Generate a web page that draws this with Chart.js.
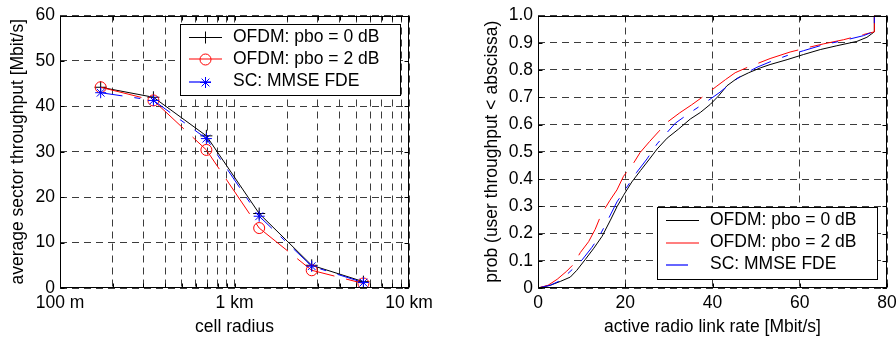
<!DOCTYPE html>
<html>
<head>
<meta charset="utf-8">
<script src="https://cdn.jsdelivr.net/npm/chart.js@4/dist/chart.umd.min.js"></script>
<style>
  html, body { margin: 0; padding: 0; background: #fff; }
  #wrap { position: relative; width: 896px; height: 339px; overflow: hidden; background: #fff; }
  #wrap canvas { position: absolute; top: 0; }
  #left { left: 0; }
  #right { left: 448px; }
</style>
</head>
<body>
<div id="wrap">
  <canvas id="left" width="448" height="339"></canvas>
  <canvas id="right" width="460" height="339"></canvas>
</div>
<script>
// ---- series names and colours ----
const seriesNames = ['OFDM: pbo = 0 dB', 'OFDM: pbo = 2 dB', 'SC: MMSE FDE'];
const seriesColors = ['#000000', '#ff0000', '#0000ff'];

// ---- average sector throughput [Mbit/s] vs cell radius [m] ----
const cellRadius = [171, 343, 690, 1385, 2770, 5480];
const ofdm0Throughput = [44.2, 42.0, 33.5, 16.4, 5.0, 1.4];
const ofdm2Throughput = [44.2, 41.3, 30.4, 13.2, 3.9, 1.0];
const scThroughput = [43.0, 41.3, 32.9, 15.8, 4.8, 1.2];

const radiusTickValues = [100, 1000, 10000];
const radiusTickLabels = ['100 m', '1 km', '10 km'];

// ---- CDF of active radio link rate [Mbit/s] ----
const ofdm0Rate = [0, 2.8, 5.1, 7.4, 8.9, 10.8, 12.8, 14.7, 16.6, 18.1, 19.6, 21.5, 23.5, 25.4, 27.3, 29.6, 32.2, 34.9, 37.2, 39.5, 41.4, 43.3, 45.6, 48.3, 51, 53.2, 57.1, 60.9, 64.7, 68.5, 73.1, 75.4, 77.1, 77.1];
const ofdm0Prob = [0, 0.01, 0.024, 0.04, 0.065, 0.104, 0.146, 0.19, 0.249, 0.298, 0.34, 0.389, 0.431, 0.47, 0.51, 0.55, 0.583, 0.62, 0.644, 0.674, 0.705, 0.742, 0.769, 0.79, 0.808, 0.82, 0.838, 0.857, 0.875, 0.889, 0.905, 0.92, 0.94, 1];

const ofdm2Rate = [0, 2.3, 4.4, 6.6, 8.2, 9.7, 11.6, 13.1, 14.5, 16.5, 18.1, 19.6, 21.7, 23.4, 25.6, 27.6, 29.5, 32.5, 35.2, 37.9, 41, 43, 45.2, 48.6, 50.5, 53.2, 57.8, 62, 65.5, 70, 74.6, 77.1, 77.1];
const ofdm2Prob = [0, 0.01, 0.032, 0.062, 0.088, 0.13, 0.17, 0.215, 0.27, 0.322, 0.36, 0.41, 0.453, 0.497, 0.538, 0.573, 0.607, 0.643, 0.672, 0.703, 0.741, 0.765, 0.79, 0.814, 0.825, 0.842, 0.866, 0.883, 0.896, 0.911, 0.93, 0.94, 1];

const scRate = [0, 2.8, 5.1, 8.2, 10.1, 12.3, 14, 15.8, 18.1, 20.4, 22.6, 25, 27.3, 29.6, 31.5, 34.8, 38.3, 41.5, 44.5, 47.1, 50.2, 53.2, 57.1, 60.9, 65.5, 70, 74.6, 77.1, 77.1];
const scProb = [0, 0.01, 0.027, 0.073, 0.103, 0.148, 0.188, 0.243, 0.316, 0.371, 0.424, 0.474, 0.529, 0.571, 0.605, 0.643, 0.68, 0.716, 0.755, 0.784, 0.81, 0.83, 0.853, 0.871, 0.893, 0.908, 0.926, 0.942, 1];

// ---- styling ----
const FONT_FAMILY = "'Liberation Sans', Arial, Helvetica, sans-serif";
const FONT = { family: FONT_FAMILY, size: 17.5 };
const GRID_COLOR = '#3c3c3c';
const GRID_DASH = [7, 5];
const RED_DASH = [42, 12];
const BLUE_DASH = [22, 12, 6, 12];
const seriesDashes = [[], RED_DASH, BLUE_DASH];

Chart.defaults.font.family = FONT_FAMILY;
Chart.defaults.font.size = 17.5;
Chart.defaults.color = '#000';

const toXY = (xs, ys) => xs.map((x, i) => ({ x, y: ys[i] }));

// log-axis grid: 1..9 per decade
function decadeTicks(lo, hi) {
  const out = [];
  for (let d = lo; d < hi; d *= 10) {
    for (let k = 1; k <= 9; k++) out.push(k * d);
  }
  out.push(hi);
  return out;
}

function drawMarker(ctx, style, x, y, r, color) {
  ctx.save();
  ctx.strokeStyle = color;
  ctx.lineWidth = 1;
  ctx.setLineDash([]);
  ctx.beginPath();
  if (style === 'cross') {
    ctx.moveTo(x - r, y); ctx.lineTo(x + r, y);
    ctx.moveTo(x, y - r); ctx.lineTo(x, y + r);
  } else if (style === 'circle') {
    ctx.arc(x, y, r, 0, Math.PI * 2);
  } else if (style === 'star') {
    for (let k = 0; k < 4; k++) {
      const a = k * Math.PI / 4;
      ctx.moveTo(x - r * Math.cos(a), y - r * Math.sin(a));
      ctx.lineTo(x + r * Math.cos(a), y + r * Math.sin(a));
    }
  }
  ctx.stroke();
  ctx.restore();
}

// Boxed axes with inward ticks, plus a framed legend inside the plot
const boxedAxes = {
  id: 'boxedAxes',
  afterDatasetsDraw(chart, args, opts) {
    const ctx = chart.ctx;
    const { x, y, w, h, rows, markers } = opts.legend;
    ctx.save();
    ctx.fillStyle = '#fff';
    ctx.fillRect(x, y, w, h);
    ctx.strokeStyle = '#000';
    ctx.lineWidth = 1;
    ctx.setLineDash([]);
    ctx.strokeRect(x + 0.5, y + 0.5, w, h);
    seriesNames.forEach((name, i) => {
      const ry = y + rows[i];
      // coloured samples straddle two pixel rows for a softer stroke
      const ly = i === 0 ? Math.round(ry) + 0.5 : Math.round(ry);
      ctx.save();
      ctx.strokeStyle = seriesColors[i];
      ctx.lineWidth = i === 0 ? 1 : 1.2;
      ctx.lineDashOffset = 0;
      ctx.setLineDash(seriesDashes[i]);
      ctx.beginPath();
      ctx.moveTo(x + 9, ly);
      ctx.lineTo(x + 42, ly);
      ctx.stroke();
      ctx.restore();
      if (markers) drawMarker(ctx, markers[i].style, x + 25.5, Math.round(ry) + 0.5, markers[i].r, seriesColors[i]);
      ctx.fillStyle = '#000';
      ctx.font = '17.5px ' + FONT_FAMILY;
      ctx.textBaseline = 'middle';
      ctx.textAlign = 'left';
      ctx.fillText(name, x + 53, ry);
    });
    ctx.restore();
  },
  afterDraw(chart) {
    const ctx = chart.ctx;
    const a = chart.chartArea;
    const L = Math.round(a.left) + 0.5, R = Math.round(a.right) - 0.5;
    const T = Math.round(a.top) + 0.5, B = Math.round(a.bottom) - 0.5;
    const tl = 4;
    ctx.save();
    ctx.strokeStyle = '#000';
    ctx.lineWidth = 1;
    ctx.setLineDash([]);
    ctx.beginPath();
    const xs = chart.scales.x, ys = chart.scales.y;
    xs.ticks.forEach(t => {
      const px = Math.round(xs.getPixelForValue(t.value)) + 0.5;
      ctx.moveTo(px, B); ctx.lineTo(px, B - tl);
      ctx.moveTo(px, T); ctx.lineTo(px, T + tl);
    });
    ys.ticks.forEach(t => {
      const py = Math.round(ys.getPixelForValue(t.value)) + 0.5;
      ctx.moveTo(L, py); ctx.lineTo(L + tl, py);
      ctx.moveTo(R, py); ctx.lineTo(R - tl, py);
    });
    ctx.stroke();
    ctx.strokeRect(L, T, R - L, B - T);
    ctx.restore();
  }
};

const gridOpts = { color: GRID_COLOR, lineWidth: 1, drawTicks: false };
const borderOpts = { display: false, dash: GRID_DASH };
const leftMarkers = [{ style: 'cross', r: 6 }, { style: 'circle', r: 5.5 }, { style: 'star', r: 5.5 }];

// ---- left: throughput vs cell radius ----
new Chart(document.getElementById('left'), {
  type: 'line',
  data: {
    datasets: [
      { label: seriesNames[0], data: toXY(cellRadius, ofdm0Throughput), borderColor: seriesColors[0], borderWidth: 1,
        pointStyle: 'cross', pointRadius: 6, pointBorderColor: seriesColors[0], pointBorderWidth: 1, pointBackgroundColor: 'rgba(0,0,0,0)', order: 3 },
      { label: seriesNames[1], data: toXY(cellRadius, ofdm2Throughput), borderColor: seriesColors[1], borderWidth: 1, borderDash: RED_DASH,
        pointStyle: 'circle', pointRadius: 5.5, pointBorderColor: seriesColors[1], pointBorderWidth: 1, pointBackgroundColor: 'rgba(0,0,0,0)', order: 2 },
      { label: seriesNames[2], data: toXY(cellRadius, scThroughput), borderColor: seriesColors[2], borderWidth: 1, borderDash: BLUE_DASH,
        pointStyle: 'star', pointRadius: 5.5, pointBorderColor: seriesColors[2], pointBorderWidth: 1, pointBackgroundColor: 'rgba(0,0,0,0)', order: 1 }
    ]
  },
  options: {
    responsive: false, animation: false, devicePixelRatio: 1,
    layout: { padding: { left: 0, right: 39, top: 14, bottom: 0 } },
    elements: { line: { tension: 0, fill: false } },
    plugins: {
      legend: { display: false }, tooltip: { enabled: false },
      boxedAxes: { legend: { x: 180, y: 24, w: 220, h: 71, rows: [12.8, 35.2, 57.6], markers: leftMarkers } }
    },
    scales: {
      x: {
        type: 'logarithmic', position: 'bottom', min: 100, max: 10000,
        afterBuildTicks: s => { s.ticks = decadeTicks(100, 10000).map(v => ({ value: v })); },
        afterFit: s => { s.height = 51; },
        grid: gridOpts, border: borderOpts,
        ticks: { autoSkip: false, maxRotation: 0, minRotation: 0, padding: 4.5, color: '#000', font: FONT,
          callback: v => { const i = radiusTickValues.indexOf(v); return i >= 0 ? radiusTickLabels[i] : ''; } },
        title: { display: true, text: 'cell radius', color: '#000', font: FONT, padding: { top: 0, bottom: 1.5 } }
      },
      y: {
        type: 'linear', position: 'left', min: 0, max: 60,
        afterFit: s => { s.width = 60; },
        grid: gridOpts, border: borderOpts,
        ticks: { stepSize: 10, padding: 5, color: '#000', font: FONT },
        title: { display: true, text: 'average sector throughput [Mbit/s]', color: '#000', font: FONT, padding: { top: 8, bottom: 0 } }
      }
    }
  },
  plugins: [boxedAxes]
});

// ---- right: CDF of active radio link rate ----
new Chart(document.getElementById('right'), {
  type: 'line',
  data: {
    datasets: [
      { label: seriesNames[0], data: toXY(ofdm0Rate, ofdm0Prob), borderColor: seriesColors[0], borderWidth: 1, pointRadius: 0, order: 3 },
      { label: seriesNames[1], data: toXY(ofdm2Rate, ofdm2Prob), borderColor: seriesColors[1], borderWidth: 1, borderDash: RED_DASH, pointRadius: 0, order: 2 },
      { label: seriesNames[2], data: toXY(scRate, scProb), borderColor: seriesColors[2], borderWidth: 1, borderDash: BLUE_DASH, pointRadius: 0, order: 1 }
    ]
  },
  options: {
    responsive: false, animation: false, devicePixelRatio: 1,
    layout: { padding: { left: 0, right: 21, top: 14, bottom: 0 } },
    elements: { line: { tension: 0, fill: false } },
    plugins: {
      legend: { display: false }, tooltip: { enabled: false },
      boxedAxes: { legend: { x: 209, y: 207, w: 220, h: 72, rows: [13, 35.5, 57.5] } }
    },
    scales: {
      x: {
        type: 'linear', position: 'bottom', min: 0, max: 80,
        afterFit: s => { s.height = 51; },
        grid: gridOpts, border: borderOpts,
        ticks: { stepSize: 20, autoSkip: false, maxRotation: 0, minRotation: 0, padding: 4.5, color: '#000', font: FONT },
        title: { display: true, text: 'active radio link rate [Mbit/s]', color: '#000', font: FONT, padding: { top: 0, bottom: 1.5 } }
      },
      y: {
        type: 'linear', position: 'left', min: 0, max: 1,
        afterFit: s => { s.width = 90; },
        grid: gridOpts, border: borderOpts,
        ticks: { stepSize: 0.1, padding: 5, color: '#000', font: FONT },
        title: { display: true, text: 'prob (user throughput < abscissa)', color: '#000', font: FONT, padding: { top: 34, bottom: 0 } }
      }
    }
  },
  plugins: [boxedAxes]
});
</script>
</body>
</html>
